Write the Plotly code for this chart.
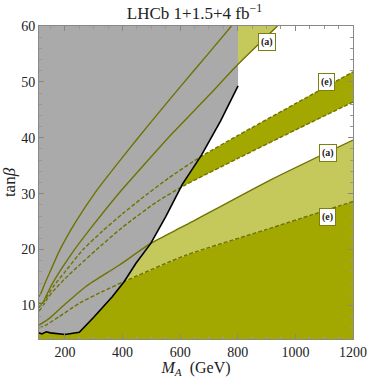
import plotly.graph_objects as go

# curve estimates (M_A in GeV, tan beta)
ma_black = [110, 120, 135, 150, 200, 250, 300, 340, 365, 406, 446, 498, 550, 608, 674, 740, 801]
tb_black = [5.1, 4.9, 5.3, 5.1, 4.8, 5.2, 7.9, 10.3, 11.6, 14.3, 17.5, 21.1, 25.9, 31.7, 36.9, 43.0, 49.3]

ma_a1 = [110, 117, 130, 150, 182, 238, 305, 412, 500, 600, 700, 778]
tb_a1 = [11.6, 12.2, 13.9, 16.2, 19.9, 25.0, 30.2, 37.3, 42.9, 49.1, 55.2, 60.0]

ma_a2 = [110, 123, 132, 150, 180, 232, 300, 386, 470, 573, 700, 800, 938]
tb_a2 = [10.4, 10.4, 11.4, 13.3, 15.9, 19.9, 24.5, 30.0, 34.9, 40.8, 47.6, 53.1, 60.0]

ma_e1 = [110, 130, 160, 200, 263, 330, 400, 460, 560, 674, 800, 1000, 1200]
tb_e1 = [9.6, 11.0, 13.4, 16.0, 20.0, 23.3, 26.4, 28.9, 32.8, 36.7, 40.4, 46.1, 51.8]

ma_e2 = [110, 125, 140, 160, 200, 250, 310, 400, 518, 616, 800, 1000, 1200]
tb_e2 = [9.0, 10.0, 11.3, 12.6, 14.8, 17.2, 20.0, 24.0, 28.5, 31.5, 36.3, 41.4, 46.4]

ma_a3 = [110, 146, 204, 273, 388, 498, 620, 911, 1200]
tb_a3 = [6.5, 7.7, 10.4, 13.4, 17.2, 21.1, 24.4, 32.4, 39.6]

ma_e3 = [110, 134, 180, 250, 331, 406, 620, 900, 1200]
tb_e3 = [6.0, 6.5, 8.0, 10.4, 12.5, 14.3, 19.0, 23.6, 28.6]

x_lo, x_hi = 110, 1200
y_lo, y_hi = 4, 60
x_ticks = [200, 400, 600, 800, 1000, 1200]
y_ticks = [10, 20, 30, 40, 50, 60]

labels = ["(a)", "(e)", "(a)", "(e)"]
label_ma = [900, 1108, 1112, 1112]
label_tb = [57.1, 50.0, 37.3, 25.8]

GREY = "#aaaaaa"
DARK = "#a3a800"
LIGHT = "#c5c95c"
LINE = "#6e7300"
SERIF = "Liberation Serif"

fig = go.Figure()


def poly(xs, ys, color):
    fig.add_trace(go.Scatter(x=xs, y=ys, fill="toself", fillcolor=color,
                             line=dict(width=0), mode="lines", hoverinfo="skip"))


# filled regions
poly(ma_e3 + [x_hi, x_lo], tb_e3 + [y_lo, y_lo], DARK)
poly(ma_a3 + ma_e3[::-1], tb_a3 + tb_e3[::-1], LIGHT)
poly(ma_e1 + ma_e2[::-1], tb_e1 + tb_e2[::-1], DARK)
poly(ma_a2 + ma_a1[::-1], tb_a2 + tb_a1[::-1], LIGHT)
poly(ma_black + [ma_black[-1], x_lo], tb_black + [y_hi, y_hi], GREY)

# boundary curves
for xs, ys, dash in [(ma_a1, tb_a1, "solid"), (ma_a2, tb_a2, "solid"),
                     (ma_a3, tb_a3, "solid"), (ma_e1, tb_e1, "4px,2px"),
                     (ma_e2, tb_e2, "4px,2px"), (ma_e3, tb_e3, "4px,2px")]:
    fig.add_trace(go.Scatter(x=xs, y=ys, mode="lines",
                             line=dict(color=LINE, width=1.4, dash=dash, shape="spline", smoothing=0.6)))

fig.add_trace(go.Scatter(x=ma_black, y=tb_black, mode="lines",
                         line=dict(color="black", width=1.6)))

for txt, xa, ya in zip(labels, label_ma, label_tb):
    fig.add_annotation(x=xa, y=ya, text="<b>" + txt + "</b>", showarrow=False,
                       font=dict(family=SERIF, size=10, color="#222"),
                       bgcolor="white", bordercolor="#7d8010", borderwidth=1, borderpad=2)

axis_common = dict(showgrid=False, zeroline=False, showline=True, linecolor="#888",
                   linewidth=1, mirror="ticks", ticks="inside", ticklen=5,
                   tickcolor="#888", ticklabeloverflow="allow", automargin=False,
                   tickfont=dict(family=SERIF, size=14, color="#222"))

fig.update_xaxes(range=[x_lo, x_hi], tickvals=x_ticks,
                 minor=dict(dtick=50, tick0=0, ticks="inside", ticklen=3, tickcolor="#999"),
                 title=dict(text="<i>M</i><sub><i>A</i></sub>  (GeV)",
                            font=dict(family=SERIF, size=16, color="#222"), standoff=6),
                 **axis_common)
fig.update_yaxes(range=[y_lo, y_hi], tickvals=y_ticks,
                 minor=dict(dtick=2, tick0=0, ticks="inside", ticklen=3, tickcolor="#999"),
                 title=dict(text="tan<i>β</i>",
                            font=dict(family=SERIF, size=17, color="#222"), standoff=4),
                 **axis_common)

fig.update_layout(
    width=374, height=378,
    margin=dict(l=39, r=21, t=26, b=39, autoexpand=False),
    paper_bgcolor="white", plot_bgcolor="white",
    showlegend=False,
    title=dict(text="LHCb 1+1.5+4 fb<sup>−1</sup>", x=0.52, xanchor="center",
               y=0.982, yanchor="top", font=dict(family=SERIF, size=17, color="#222")),
)

# page body has a default 8px margin; drop it so the figure sits at the window origin
fig.write_html("out.html", config={"displayModeBar": False},
               post_script="document.body.style.margin='0';")
